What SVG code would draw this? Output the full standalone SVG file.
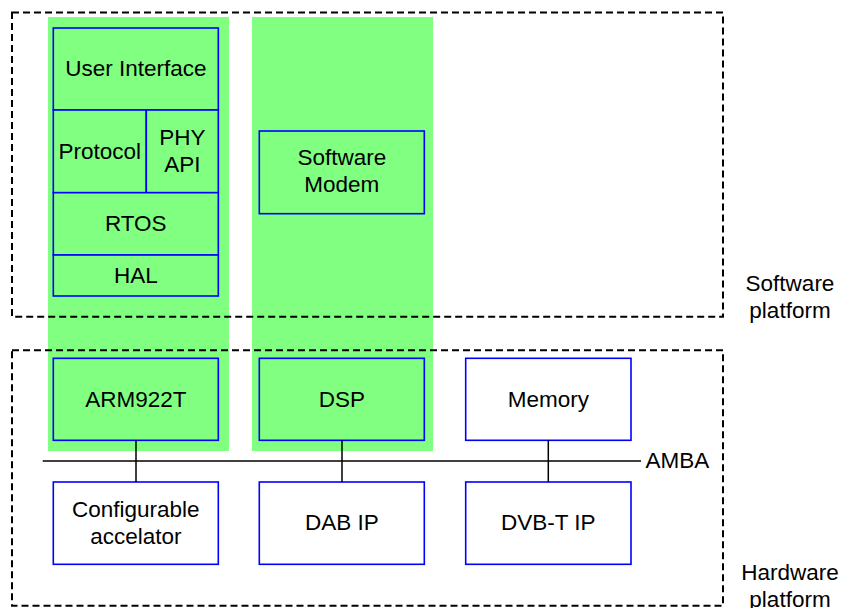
<svg xmlns="http://www.w3.org/2000/svg" width="843" height="608" viewBox="0 0 843 608">
  <style>
    .lane { fill: #80FF80; stroke: none; }
    .blk { fill: #80FF80; stroke: #0000FF; stroke-width: 1.6; }
    .hw { fill: #FFFFFF; stroke: #0000FF; stroke-width: 1.6; }
    .platform { fill: none; stroke: #000000; stroke-width: 2; stroke-dasharray: 7 4; }
    .wire { stroke: #000000; stroke-width: 1.5; fill: none; }
    text { font-family: "Liberation Sans", Arial, sans-serif; font-size: 22.5px; fill: #000000; text-anchor: middle; }
    .left { text-anchor: start; }
  </style>

  <!-- processor lanes spanning both platforms -->
  <rect class="lane" x="48" y="17" width="181" height="434"/>
  <rect class="lane" x="252" y="17" width="181" height="434"/>

  <!-- ARM software stack -->
  <g id="user-interface">
    <rect class="blk" x="53.3" y="28" width="165" height="82"/>
    <text x="135.8" y="76">User Interface</text>
  </g>
  <g id="protocol">
    <rect class="blk" x="53.3" y="110" width="93" height="82.7"/>
    <text x="99.8" y="159">Protocol</text>
  </g>
  <g id="phy-api">
    <rect class="blk" x="146.3" y="110" width="72" height="82.7"/>
    <text x="182.3" y="145">PHY</text>
    <text x="182.3" y="172">API</text>
  </g>
  <g id="rtos">
    <rect class="blk" x="53.3" y="192.7" width="165" height="62.3"/>
    <text x="135.8" y="231">RTOS</text>
  </g>
  <g id="hal">
    <rect class="blk" x="53.3" y="255" width="165" height="41"/>
    <text x="135.8" y="283">HAL</text>
  </g>

  <!-- DSP software -->
  <g id="software-modem">
    <rect class="blk" x="259.3" y="131" width="165" height="82.7"/>
    <text x="341.8" y="165">Software</text>
    <text x="341.8" y="192">Modem</text>
  </g>

  <!-- hardware blocks -->
  <g id="arm922t">
    <rect class="blk" x="53.3" y="358.3" width="165" height="82"/>
    <text x="135.8" y="407">ARM922T</text>
  </g>
  <g id="dsp">
    <rect class="blk" x="259.3" y="358.3" width="165" height="82"/>
    <text x="341.8" y="407">DSP</text>
  </g>
  <g id="memory">
    <rect class="hw" x="465.7" y="358.3" width="165.3" height="82"/>
    <text x="548.3" y="407">Memory</text>
  </g>
  <g id="configurable-accelerator">
    <rect class="hw" x="53.3" y="482" width="165" height="82.3"/>
    <text x="135.8" y="517">Configurable</text>
    <text x="135.8" y="543.5">accelator</text>
  </g>
  <g id="dab-ip">
    <rect class="hw" x="259.3" y="482" width="165" height="82.3"/>
    <text x="341.8" y="530">DAB IP</text>
  </g>
  <g id="dvb-t-ip">
    <rect class="hw" x="465.7" y="482" width="165.3" height="82.3"/>
    <text x="548.3" y="530">DVB-T IP</text>
  </g>

  <!-- AMBA bus and taps -->
  <g id="connectors">
    <line class="wire" x1="42.7" y1="461" x2="641" y2="461"/>
    <line class="wire" x1="136" y1="440.3" x2="136" y2="482"/>
    <line class="wire" x1="342" y1="440.3" x2="342" y2="482"/>
    <line class="wire" x1="548.3" y1="440.3" x2="548.3" y2="482"/>
  </g>
  <g id="amba-label">
    <text class="left" x="645.5" y="468">AMBA</text>
  </g>

  <!-- platform boundaries -->
  <g id="software-platform">
    <rect class="platform" x="12" y="12.5" width="711" height="304.2"/>
    <text x="790" y="291">Software</text>
    <text x="790" y="318">platform</text>
  </g>
  <g id="hardware-platform">
    <rect class="platform" x="12" y="350.3" width="711" height="255.5"/>
    <text x="790" y="580">Hardware</text>
    <text x="790" y="607">platform</text>
  </g>
</svg>
